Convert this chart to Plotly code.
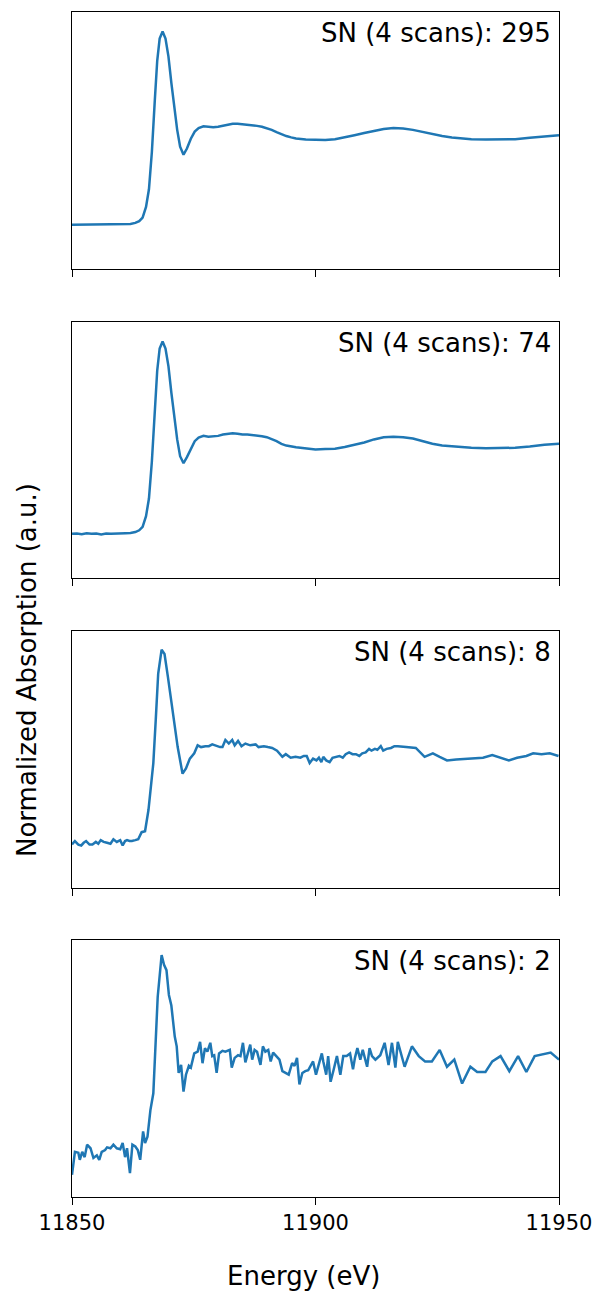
import plotly.graph_objects as go

# ---- spectra: energy (eV) and normalized absorption for each signal-to-noise level ----
energy_295 = [11850, 11852, 11854, 11856, 11858, 11860, 11861, 11862, 11863, 11863.8,
              11864.5, 11865.2, 11865.8, 11866.4, 11867, 11867.5, 11868, 11868.6, 11869.2,
              11869.8, 11870.4, 11871, 11871.6, 11872.2, 11872.9, 11873.6, 11874.4, 11875.2,
              11876, 11877, 11878, 11879, 11880, 11881, 11882, 11883, 11884, 11885, 11886,
              11887, 11888, 11889, 11890, 11891, 11892, 11893, 11894, 11895, 11896, 11898,
              11900, 11902, 11904, 11906, 11908, 11910, 11912, 11914, 11916, 11918, 11920,
              11922, 11924, 11926, 11928, 11930, 11932, 11935, 11938, 11941, 11944, 11947,
              11950]
absorb_295 = [0.0, 0.0, 0.0, 0.0, 0.0, 0.002, 0.004, 0.008, 0.02, 0.04,
              0.08, 0.2, 0.4, 0.82, 1.4, 1.85, 2.1, 2.18, 2.1,
              1.9, 1.6, 1.32, 1.07, 0.88, 0.79, 0.86, 0.97, 1.05,
              1.09, 1.11, 1.105, 1.1, 1.105, 1.115, 1.13, 1.14, 1.14, 1.135, 1.125,
              1.12, 1.115, 1.105, 1.09, 1.07, 1.045, 1.02, 1.0, 0.985, 0.972, 0.96,
              0.955, 0.955, 0.965, 0.985, 1.01, 1.035, 1.06, 1.08, 1.09, 1.085, 1.07,
              1.045, 1.02, 1.0, 0.985, 0.972, 0.965, 0.96, 0.96, 0.965, 0.98, 0.995,
              1.01]

energy_74 = [11850, 11851, 11852, 11853, 11854, 11855, 11856, 11857, 11858, 11859, 11860,
             11861, 11862, 11863, 11863.8, 11864.5, 11865.2, 11865.8, 11866.4, 11867,
             11867.5, 11868, 11868.6, 11869.2, 11869.8, 11870.4, 11871, 11871.6, 11872.2,
             11872.9, 11873.6, 11874.4, 11875.2, 11876, 11877, 11878, 11879, 11880, 11881,
             11882, 11883, 11884, 11885, 11886, 11887, 11888, 11889, 11890, 11891, 11892,
             11893, 11894, 11896, 11898, 11900, 11902, 11904, 11906, 11908, 11910, 11912,
             11914, 11916, 11918, 11920, 11922, 11924, 11926, 11929, 11932, 11935, 11938,
             11941, 11944, 11947, 11950]
absorb_74 = [0.0, 0.005, -0.004, 0.006, 0.0, 0.004, -0.006, 0.003, 0.0, 0.005, 0.004,
             0.008, 0.01, 0.02, 0.04, 0.08, 0.2, 0.4, 0.82, 1.4,
             1.85, 2.1, 2.18, 2.1, 1.9, 1.6, 1.32, 1.07, 0.88,
             0.8, 0.87, 0.97, 1.05, 1.09, 1.11, 1.1, 1.105, 1.11, 1.125,
             1.13, 1.14, 1.135, 1.125, 1.125, 1.12, 1.115, 1.105, 1.095, 1.075, 1.05,
             1.02, 1.0, 0.98, 0.965, 0.955, 0.96, 0.965, 0.985, 1.01, 1.035, 1.07,
             1.095, 1.1, 1.095, 1.08, 1.05, 1.02, 1.0, 0.985, 0.975, 0.97, 0.97,
             0.975, 0.99, 1.01, 1.02]

energy_8 = [11850.0, 11850.6, 11851.3, 11851.9, 11852.4, 11852.9, 11853.6, 11854.2, 11854.9,
            11855.4, 11855.9, 11856.5, 11857.2, 11857.9, 11858.5, 11859.2, 11859.9, 11860.4,
            11860.9, 11861.3, 11861.8, 11862.3, 11863.0, 11863.6, 11864.3, 11865.0, 11865.7,
            11866.1, 11866.7, 11867.2, 11867.7, 11868.4, 11869.0, 11869.7, 11870.7, 11871.7,
            11872.7, 11873.4, 11874.2, 11875.1, 11875.8, 11876.5, 11877.4, 11878.1, 11878.8,
            11879.8, 11880.4, 11880.9, 11881.5, 11882.2, 11882.9, 11883.4, 11884.1, 11884.8,
            11885.6, 11886.6, 11887.7, 11888.3, 11889.4, 11890.2, 11891.1, 11892.1, 11893.2,
            11893.9, 11894.9, 11895.9, 11896.9, 11897.6, 11898.2, 11898.8, 11899.5, 11900.2,
            11900.7, 11901.2, 11901.6, 11902.2, 11902.9, 11903.5, 11904.2, 11904.9, 11905.6,
            11906.2, 11906.9, 11907.6, 11908.3, 11909.0, 11909.6, 11910.3, 11911.0, 11911.5,
            11912.2, 11912.7, 11913.4, 11913.9, 11914.6, 11915.5, 11916.2, 11916.9, 11918.6,
            11920.6, 11922.4, 11924.1, 11925.5, 11927.0, 11928.9, 11931.0, 11934.4, 11936.3,
            11937.8, 11939.7, 11941.4, 11943.3, 11944.7, 11946.4, 11948.1, 11949.9]
absorb_8 = [-0.01, 0.03, -0.01, -0.02, 0.01, 0.03, -0.01, -0.01, 0.02,
            0.0, 0.04, 0.02, 0.01, 0.0, 0.05, 0.02, 0.04, -0.02,
            0.03, 0.04, 0.03, 0.03, 0.04, 0.05, 0.13, 0.14, 0.38,
            0.57, 0.91, 1.40, 1.92, 2.19, 2.14, 1.88, 1.47, 1.09,
            0.79, 0.85, 0.96, 1.02, 1.11, 1.09, 1.10, 1.10, 1.12,
            1.10, 1.09, 1.09, 1.17, 1.13, 1.17, 1.11, 1.16, 1.10,
            1.13, 1.11, 1.12, 1.09, 1.10, 1.09, 1.08, 1.05, 0.98,
            1.01, 0.97, 0.98, 0.97, 0.99, 0.99, 0.91, 0.96, 0.94,
            0.97, 0.92, 0.98, 0.94, 0.92, 0.97, 0.98, 0.99, 0.97,
            1.01, 1.03, 1.01, 1.01, 0.99, 1.02, 1.03, 1.07, 1.05,
            1.07, 1.06, 1.10, 1.05, 1.07, 1.08, 1.10, 1.10, 1.09,
            1.08, 0.98, 1.02, 0.98, 0.94, 0.95, 0.96, 0.97, 1.0,
            0.97, 0.94, 0.97, 0.99, 1.02, 1.01, 1.02, 0.99]

energy_2 = [11850.0, 11850.6, 11851.3, 11851.6, 11852.1, 11852.6, 11853.1, 11853.8, 11854.4,
            11855.1, 11855.6, 11856.1, 11856.8, 11857.2, 11857.9, 11858.5, 11859.2, 11859.9,
            11860.4, 11860.9, 11861.3, 11861.6, 11861.9, 11862.4, 11863.0, 11863.5, 11864.0,
            11864.6, 11865.0, 11865.5, 11866.1, 11866.7, 11867.2, 11867.6, 11868.4, 11868.9,
            11869.4, 11869.9, 11870.4, 11871.1, 11871.5, 11871.9, 11872.4, 11872.9, 11873.4,
            11874.0, 11874.4, 11875.1, 11875.8, 11876.3, 11876.8, 11877.3, 11877.8, 11878.4,
            11878.8, 11879.2, 11879.7, 11880.2, 11880.9, 11881.5, 11882.4, 11882.8, 11883.4,
            11884.1, 11884.6, 11885.1, 11885.6, 11886.2, 11886.6, 11887.0, 11887.5, 11888.0,
            11888.7, 11889.2, 11889.7, 11890.3, 11890.8, 11891.3, 11891.9, 11892.6, 11893.2,
            11893.9, 11894.5, 11895.2, 11895.7, 11896.2, 11896.7, 11897.3, 11897.9, 11898.5,
            11899.2, 11899.5, 11900.1, 11900.6, 11901.3, 11901.6, 11902.2, 11902.6, 11903.1,
            11903.7, 11904.4, 11905.1, 11905.7, 11906.4, 11907.1, 11907.7, 11908.1, 11908.6,
            11909.2, 11909.7, 11910.2, 11910.6, 11911.1, 11911.6, 11912.3, 11913.3, 11914.2,
            11915.0, 11915.7, 11916.4, 11916.9, 11917.4, 11918.3, 11919.8, 11921.2, 11922.5,
            11923.9, 11925.5, 11927.0, 11928.5, 11930.1, 11931.8, 11933.2, 11934.9, 11936.3,
            11938.0, 11939.8, 11941.6, 11943.3, 11945.0, 11948.3, 11950.0]
absorb_2 = [-0.25, 0.01, 0.0, -0.08, 0.01, -0.05, 0.09, 0.05, -0.06,
            -0.03, -0.08, 0.01, 0.03, 0.06, 0.05, 0.09, 0.05, 0.04,
            0.11, -0.05, 0.05, -0.08, -0.23, 0.09, 0.07, 0.03, -0.08,
            0.24, 0.11, 0.18, 0.48, 0.67, 1.27, 1.76, 2.23, 2.12,
            2.06, 1.78, 1.66, 1.31, 1.2, 0.9, 0.99, 0.69, 0.88,
            0.98, 0.96, 1.12, 1.14, 1.25, 1.01, 1.18, 1.14, 1.24,
            1.09, 1.1, 0.9, 1.12, 1.15, 1.14, 1.16, 0.96, 1.07,
            1.10, 1.09, 1.24, 1.02, 1.16, 1.22, 1.05, 1.16, 1.14,
            0.99, 1.2, 1.14, 1.16, 1.03, 1.13, 1.09, 1.05, 0.92,
            0.9, 0.88, 1.01, 0.98, 1.07, 0.77, 0.9, 0.92, 0.93,
            0.99, 1.03, 0.88, 0.97, 1.12, 1.03, 0.88, 1.09, 0.80,
            0.93, 1.09, 0.88, 1.09, 1.09, 1.12, 0.94, 1.07, 1.18,
            1.05, 1.16, 1.07, 0.97, 1.18, 1.09, 1.05, 1.10, 1.24,
            0.99, 1.24, 0.96, 1.25, 1.16, 0.97, 1.2, 1.09, 1.03,
            1.03, 1.16, 0.97, 1.05, 0.78, 0.97, 0.91, 0.91, 1.03,
            1.09, 0.92, 1.09, 0.91, 1.09, 1.13, 1.05]

panel_labels = ["SN (4 scans): 295", "SN (4 scans): 74", "SN (4 scans): 8", "SN (4 scans): 2"]
x_ticks = [11850, 11900, 11950]
x_title = "Energy (eV)"
y_title = "Normalized Absorption (a.u.)"

series = [(energy_295, absorb_295), (energy_74, absorb_74),
          (energy_8, absorb_8), (energy_2, absorb_2)]

# ---- layout geometry ----
W, H = 597, 1291
left, right, top, bottom = 72, 559, 12, 1197
plot_h = bottom - top
panel_px = [(12, 269), (322, 578), (631, 888), (940, 1197)]
domains = [[(bottom - b) / plot_h, (bottom - t) / plot_h] for t, b in panel_px]

FONT = "DejaVu Sans"
LINE_COLOR = "#1f77b4"

fig = go.Figure()
layout = dict(
    width=W, height=H,
    margin=dict(l=left, r=W - right, t=top, b=H - bottom, pad=0, autoexpand=False),
    paper_bgcolor="white", plot_bgcolor="white",
    showlegend=False,
    font=dict(family=FONT, color="black"),
)

annotations = []
for i, (ex, ay) in enumerate(series):
    n = i + 1
    xa = "x" if n == 1 else f"x{n}"
    ya = "y" if n == 1 else f"y{n}"
    fig.add_trace(go.Scatter(x=ex, y=ay, mode="lines", xaxis=xa, yaxis=ya,
                             line=dict(color=LINE_COLOR, width=2.5)))
    layout["xaxis" if n == 1 else f"xaxis{n}"] = dict(
        domain=[0, 1], anchor=ya, range=[11850, 11950], automargin=False,
        tickmode="array", tickvals=x_ticks, ticktext=[str(v) for v in x_ticks],
        ticks="outside", ticklen=7, tickwidth=1.2, tickcolor="black",
        showticklabels=(n == 4), tickfont=dict(family=FONT, size=21, color="black"),
        showline=True, mirror=True, linecolor="black", linewidth=1.2,
        showgrid=False, zeroline=False, fixedrange=True,
    )
    layout["yaxis" if n == 1 else f"yaxis{n}"] = dict(
        domain=domains[i], anchor=xa, range=[-0.5, 2.4], automargin=False,
        showticklabels=False, ticks="",
        showline=True, mirror=True, linecolor="black", linewidth=1.2,
        showgrid=False, zeroline=False, fixedrange=True,
    )
    annotations.append(dict(
        text=panel_labels[i], xref=f"{xa} domain", yref=f"{ya} domain",
        x=0.988, y=0.985, xanchor="right", yanchor="top", showarrow=False,
        font=dict(family=FONT, size=26, color="black"),
    ))

annotations.append(dict(
    text=x_title, xref="paper", yref="paper",
    x=(303 - left) / (right - left), y=(bottom - 1276) / plot_h,
    xanchor="center", yanchor="middle", showarrow=False,
    font=dict(family=FONT, size=26, color="black"),
))
annotations.append(dict(
    text=y_title, xref="paper", yref="paper", textangle=-90,
    x=(27 - left) / (right - left), y=(bottom - 670) / plot_h,
    xanchor="center", yanchor="middle", showarrow=False,
    font=dict(family=FONT, size=26, color="black"),
))
layout["annotations"] = annotations

fig.update_layout(**layout)
fig.write_html("out.html")
